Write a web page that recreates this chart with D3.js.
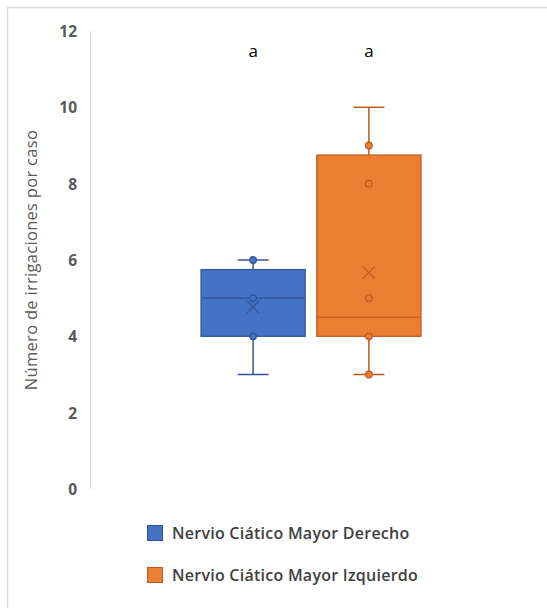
<!DOCTYPE html>
<html><head><meta charset="utf-8">
<script src="https://cdn.jsdelivr.net/npm/d3@7"></script>
<style>body{margin:0;background:#fff}svg{display:block}</style>
</head><body>
<svg id="c" width="547" height="608"></svg>
<script>
const categories = ["Nervio Ciático Mayor Derecho", "Nervio Ciático Mayor Izquierdo"];
const whiskerLow = [3, 3];
const q1 = [4, 4];
const median = [5, 4.5];
const q3 = [5.75, 8.75];
const whiskerHigh = [6, 10];
const means = [4.77, 5.67];
const points = [[6, 5, 4], [9, 8, 5, 4, 3]];
const letters = ["a", "a"];
const yTicks = [0, 2, 4, 6, 8, 10, 12];
const fills = ["#4472C4", "#ED7D31"];
const strokes = ["#2F5597", "#B85A1E"];

const svg = d3.select("#c");
// outer border (top & left visible)
svg.append("line").attr("x1", 7).attr("x2", 547).attr("y1", 7.5).attr("y2", 7.5).attr("stroke", "#d9d9d9").attr("stroke-width", 1.5);
svg.append("line").attr("x1", 7.5).attr("x2", 7.5).attr("y1", 7).attr("y2", 608).attr("stroke", "#d9d9d9").attr("stroke-width", 1.5);

const y = d3.scaleLinear().domain([0, 12]).range([489, 31]);
const x = d3.scaleBand().domain(categories).range([201, 421]).paddingInner(0.1).paddingOuter(0);

// axis line
svg.append("line").attr("x1", 90.5).attr("x2", 90.5).attr("y1", y(12)).attr("y2", y(0)).attr("stroke", "#d9d9d9").attr("stroke-width", 1);

const yAxis = d3.axisLeft(y).tickValues(yTicks).tickSize(0).tickPadding(0);
const ga = svg.append("g").attr("transform", "translate(77,0)").call(yAxis);
ga.select(".domain").remove();
ga.selectAll("text").attr("font-family", "'Open Sans', sans-serif").attr("font-size", 15.5).attr("font-weight", "bold").attr("fill", "#595959").attr("dy", "0.35em");

svg.append("text").attr("transform", "translate(37,260) rotate(-90)").attr("text-anchor", "middle")
  .attr("font-family", "'Open Sans', sans-serif").attr("font-size", 16.5).attr("letter-spacing", 0.3).attr("font-weight", 500).attr("fill", "#595959").text("Número de irrigaciones por caso");

categories.forEach((c, i) => {
  const x0 = x(c), w = x.bandwidth(), cx = x0 + w / 2;
  const g = svg.append("g");
  const cap = 15.5;
  g.append("line").attr("x1", cx).attr("x2", cx).attr("y1", y(whiskerHigh[i])).attr("y2", y(q3[i])).attr("stroke", strokes[i]).attr("stroke-width", 1.5);
  g.append("line").attr("x1", cx).attr("x2", cx).attr("y1", y(q1[i])).attr("y2", y(whiskerLow[i])).attr("stroke", strokes[i]).attr("stroke-width", 1.5);
  g.append("line").attr("x1", cx - cap).attr("x2", cx + cap).attr("y1", y(whiskerHigh[i])).attr("y2", y(whiskerHigh[i])).attr("stroke", strokes[i]).attr("stroke-width", 1.5);
  g.append("line").attr("x1", cx - cap).attr("x2", cx + cap).attr("y1", y(whiskerLow[i])).attr("y2", y(whiskerLow[i])).attr("stroke", strokes[i]).attr("stroke-width", 1.5);
  g.append("rect").attr("x", x0).attr("y", y(q3[i])).attr("width", w).attr("height", y(q1[i]) - y(q3[i]))
    .attr("fill", fills[i]).attr("stroke", strokes[i]).attr("stroke-width", 1.2);
  g.append("line").attr("x1", x0).attr("x2", x0 + w).attr("y1", y(median[i])).attr("y2", y(median[i])).attr("stroke", strokes[i]).attr("stroke-width", 1.2);
  points[i].forEach(v => {
    g.append("circle").attr("cx", cx).attr("cy", y(v)).attr("r", 3.3).attr("fill", fills[i]).attr("stroke", strokes[i]).attr("stroke-width", 1.2);
  });
  const m = y(means[i]), s = 6;
  g.append("path").attr("d", `M${cx - s},${m - s}L${cx + s},${m + s}M${cx - s},${m + s}L${cx + s},${m - s}`).attr("stroke", strokes[i]).attr("stroke-width", 1.2).attr("fill", "none");
  svg.append("text").attr("x", cx).attr("y", 57).attr("text-anchor", "middle").attr("font-family", "'Open Sans', sans-serif").attr("font-size", 17).attr("fill", "#000").text(letters[i]);
});

// legend
categories.forEach((c, i) => {
  const ly = 525 + i * 42;
  svg.append("rect").attr("x", 147.5).attr("y", ly + 0.5).attr("width", 15).attr("height", 15).attr("fill", fills[i]).attr("stroke", strokes[i]).attr("stroke-width", 1);
  svg.append("text").attr("x", 172).attr("y", ly + 8).attr("dy", "0.35em").attr("font-family", "'Open Sans', sans-serif").attr("font-size", 16).attr("letter-spacing", 0.25).attr("font-weight", 600).attr("fill", "#404040").text(c);
});
</script>
</body></html>
